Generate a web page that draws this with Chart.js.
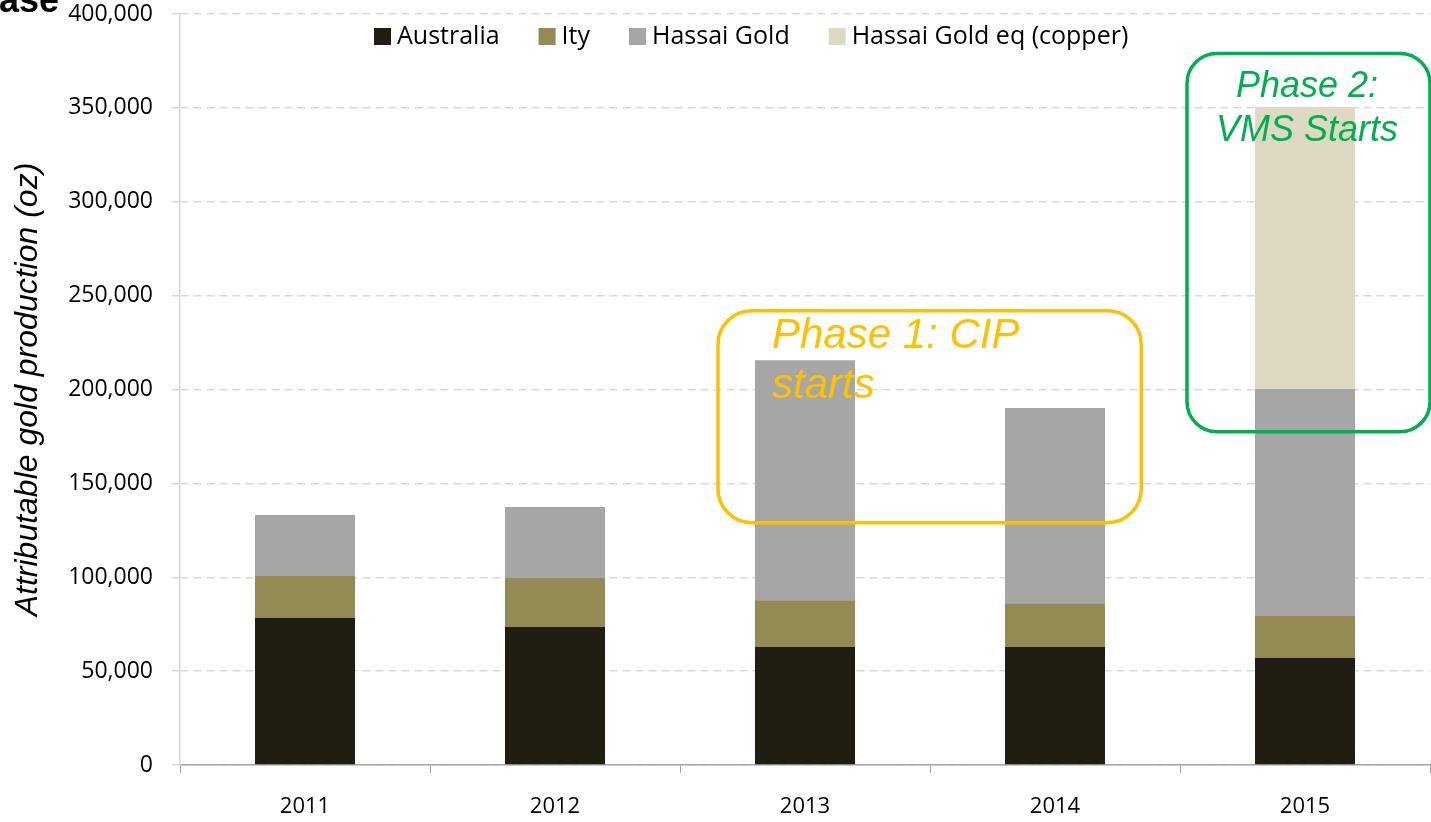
<!DOCTYPE html>
<html>
<head>
<meta charset="utf-8">
<script src="https://cdn.jsdelivr.net/npm/chart.js@4.4.1/dist/chart.umd.min.js"></script>
<style>
  html, body { margin: 0; padding: 0; background: #fff; }
  #wrap { width: 1431px; height: 822px; }
</style>
</head>
<body>
<div id="wrap"><canvas id="goldChart" width="1431" height="822"></canvas></div>
<script>
// Attributable gold production by year, stacked per source
const years = ['2011', '2012', '2013', '2014', '2015'];
const australia = [78300, 73500, 62800, 62800, 57000];
const ity = [22400, 26100, 25000, 23400, 22400];
const hassaiGold = [32500, 37800, 127800, 103900, 120900];
const hassaiCopperEq = [null, null, null, null, 150200];
const yTicks = [0, 50000, 100000, 150000, 200000, 250000, 300000, 350000, 400000];

const tickFont = { family: '"Open Sans", sans-serif', size: 23 };

// legend drawn by hand so it sits inside the plot like the original
const legendPlugin = {
  id: 'insideLegend',
  afterDraw(chart) {
    const ctx = chart.ctx;
    ctx.save();
    ctx.font = '25px "Open Sans", sans-serif';
    ctx.textBaseline = 'alphabetic';
    let x = 374;
    chart.data.datasets.forEach((ds) => {
      ctx.fillStyle = ds.backgroundColor;
      ctx.fillRect(x, 28, 17, 17);
      x += 23;
      ctx.fillStyle = '#000';
      ctx.fillText(ds.label, x, 44);
      x += ctx.measureText(ds.label).width + 39;
    });
    ctx.restore();
  }
};

// rounded callout boxes around the phases
const phasePlugin = {
  id: 'phaseBoxes',
  afterDraw(chart) {
    const ctx = chart.ctx;
    const xs = chart.scales.x, ys = chart.scales.y;
    const cw = xs.getPixelForValue(1) - xs.getPixelForValue(0);
    ctx.save();

    // Phase 1
    let l = xs.getPixelForValue(2) - 0.348 * cw;
    let r = xs.getPixelForValue(3) + 0.345 * cw;
    let t = ys.getPixelForValue(242000);
    let b = ys.getPixelForValue(129000);
    ctx.strokeStyle = '#FFC000';
    ctx.lineWidth = 3.5;
    ctx.beginPath();
    ctx.roundRect(l, t, r - l, b - t, 34);
    ctx.stroke();
    ctx.fillStyle = '#FFC000';
    ctx.font = 'italic 42px "Liberation Sans", Arial, sans-serif';
    ctx.textAlign = 'left';
    ctx.fillText('Phase 1: CIP', xs.getPixelForValue(2) - 0.132 * cw, t + 37);
    ctx.fillText('starts', xs.getPixelForValue(2) - 0.132 * cw, t + 87);

    // Phase 2
    l = xs.getPixelForValue(4) - 0.472 * cw;
    r = xs.getPixelForValue(4) + 0.5 * cw;
    t = ys.getPixelForValue(379000);
    b = ys.getPixelForValue(177500);
    ctx.strokeStyle = '#00B050';
    ctx.beginPath();
    ctx.roundRect(l, t, r - l, b - t, 30);
    ctx.stroke();
    ctx.fillStyle = '#00B050';
    ctx.font = 'italic 36px "Liberation Sans", Arial, sans-serif';
    ctx.textAlign = 'center';
    const cx = xs.getPixelForValue(4) + 2;
    ctx.fillText('Phase 2:', cx, t + 44);
    ctx.fillText('VMS Starts', cx, t + 88);

    // clipped slide title remnant in the corner
    ctx.fillStyle = '#000';
    ctx.textAlign = 'left';
    ctx.font = 'bold 36px "Liberation Sans", Arial, sans-serif';
    ctx.fillText('ase', -1, 12);
    ctx.restore();
  }
};

function initGoldChart() {
  const ctx = document.getElementById('goldChart').getContext('2d');
  new Chart(ctx, {
    type: 'bar',
    data: {
      labels: years,
      datasets: [
        { label: 'Australia', data: australia, backgroundColor: '#201E12' },
        { label: 'Ity', data: ity, backgroundColor: '#948A54' },
        { label: 'Hassai Gold', data: hassaiGold, backgroundColor: '#A6A6A6' },
        { label: 'Hassai Gold eq (copper)', data: hassaiCopperEq, backgroundColor: '#DDD9C3' }
      ]
    },
    options: {
      responsive: false,
      animation: false,
      layout: { padding: { top: 14, right: 1, left: 0, bottom: 0 } },
      datasets: { bar: { barPercentage: 0.4, categoryPercentage: 1 } },
      plugins: {
        legend: { display: false },
        tooltip: { enabled: false }
      },
      scales: {
        x: {
          stacked: true,
          afterFit: (s) => { s.height = 57; },
          grid: { display: true, drawOnChartArea: false, offset: true, tickLength: 8, color: '#A6A6A6' },
          border: { color: '#A6A6A6', width: 1.5 },
          ticks: { color: '#000', font: { family: '"Open Sans", sans-serif', size: 22 }, padding: 21, maxRotation: 0 }
        },
        y: {
          stacked: true,
          min: 0,
          max: 400000,
          afterFit: (s) => { s.width = 180; s.paddingTop = 0; s.paddingBottom = 0; },
          afterBuildTicks: (s) => { s.ticks = yTicks.map((v) => ({ value: v })); },
          grid: { color: '#D9D9D9', lineWidth: 1.5, tickLength: 8, tickBorderDash: [8, 5] },
          border: { color: '#D9D9D9', width: 1.5, dash: [8, 5] },
          ticks: {
            color: '#000',
            font: tickFont,
            padding: 19,
            callback: (v) => Number(v).toLocaleString('en-US')
          },
          title: {
            display: true,
            text: 'Attributable gold production (oz)',
            color: '#000',
            font: { family: '"Liberation Sans", Arial, sans-serif', size: 32, style: 'italic' },
            padding: { top: 9, bottom: 4 }
          }
        }
      }
    },
    plugins: [legendPlugin, phasePlugin]
  });
}

initGoldChart();
</script>
</body>
</html>
